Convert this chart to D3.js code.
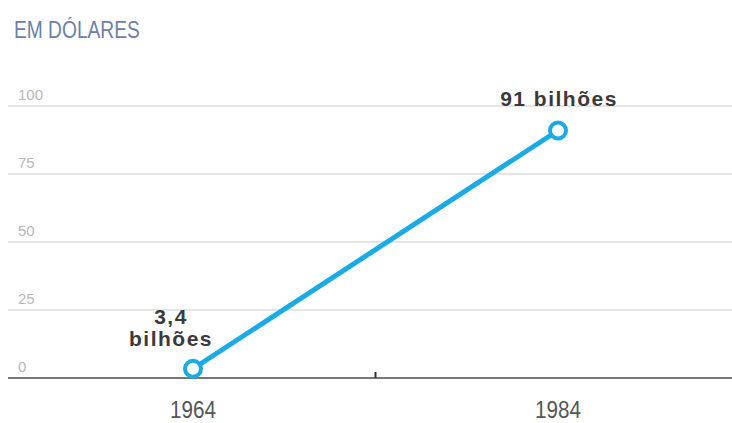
<!DOCTYPE html>
<html>
<head>
<meta charset="utf-8">
<script src="https://cdn.jsdelivr.net/npm/d3@7"></script>
<style>
  body { margin: 0; background: #fff; }
  svg { display: block; }
</style>
</head>
<body>
<div id="chart"></div>
<script>
// data
const years = [1964, 1984]
const values = [3.4, 91]
const pointLabels = [["3,4", "bilhões"], ["91 bilhões"]]
const yTicks = [0, 25, 50, 75, 100]
const title = "EM DÓLARES"

// layout
const width = 732, height = 423
const margin = {left: 8, right: 0, top: 106, bottom: 45}

const svg = d3.select("#chart").append("svg")
  .attr("width", width)
  .attr("height", height)

const x = d3.scaleLinear()
  .domain([1964, 1984])
  .range([193, 558])

const y = d3.scaleLinear()
  .domain([0, 100])
  .range([height - margin.bottom, margin.top])

// title (condensed by squeezing horizontally)
svg.append("text")
  .attr("transform", "translate(14,38) scale(0.8,1)")
  .attr("font-family", "'Liberation Sans', Arial, sans-serif")
  .attr("font-size", 24)
  .attr("fill", "#6f80a6")
  .text(title)

// grid + tick labels
const grid = svg.append("g")
grid.selectAll("line")
  .data(yTicks.filter(d => d > 0))
  .join("line")
    .attr("x1", margin.left)
    .attr("x2", width)
    .attr("y1", d => y(d))
    .attr("y2", d => y(d))
    .attr("stroke", "#dcdcdc")
    .attr("stroke-width", 1.5)

grid.selectAll("text")
  .data(yTicks)
  .join("text")
    .attr("x", 18)
    .attr("y", d => y(d) - 6)
    .attr("font-family", "'Liberation Sans', Arial, sans-serif")
    .attr("font-size", 15)
    .attr("fill", "#b8b8b8")
    .text(d => d)

// baseline
svg.append("line")
  .attr("x1", margin.left)
  .attr("x2", width)
  .attr("y1", y(0))
  .attr("y2", y(0))
  .attr("stroke", "#777")
  .attr("stroke-width", 2)

// middle tick
svg.append("line")
  .attr("x1", x(1974))
  .attr("x2", x(1974))
  .attr("y1", y(0) - 6)
  .attr("y2", y(0))
  .attr("stroke", "#333")
  .attr("stroke-width", 2)

// x labels
svg.selectAll(".xlab")
  .data(years)
  .join("text")
    .attr("class", "xlab")
    .attr("transform", d => `translate(${x(d)},418) scale(0.86,1)`)
    .attr("text-anchor", "middle")
    .attr("font-family", "'Liberation Sans', Arial, sans-serif")
    .attr("font-size", 24)
    .attr("fill", "#555")
    .text(d => d)

// line
const pts = years.map((d, i) => [x(d), y(values[i])])
svg.append("path")
  .attr("d", d3.line()(pts))
  .attr("fill", "none")
  .attr("stroke", "#1aabe4")
  .attr("stroke-width", 5)

svg.selectAll("circle")
  .data(pts)
  .join("circle")
    .attr("cx", d => d[0])
    .attr("cy", d => d[1])
    .attr("r", 8)
    .attr("fill", "#fff")
    .attr("stroke", "#1aabe4")
    .attr("stroke-width", 4)

// point labels
const labelPos = [[171, 324], [559, 106]]
pointLabels.forEach((lines, i) => {
  const t = svg.append("text")
    .attr("x", labelPos[i][0])
    .attr("y", labelPos[i][1])
    .attr("text-anchor", "middle")
    .attr("font-family", "'Liberation Sans', Arial, sans-serif")
    .attr("font-weight", "bold")
    .attr("font-size", 21)
    .attr("letter-spacing", 1.5)
    .attr("fill", "#3a3a3a")
  lines.forEach((l, j) => {
    t.append("tspan")
      .attr("x", labelPos[i][0])
      .attr("dy", j === 0 ? 0 : 22)
      .text(l)
  })
})
</script>
</body>
</html>
